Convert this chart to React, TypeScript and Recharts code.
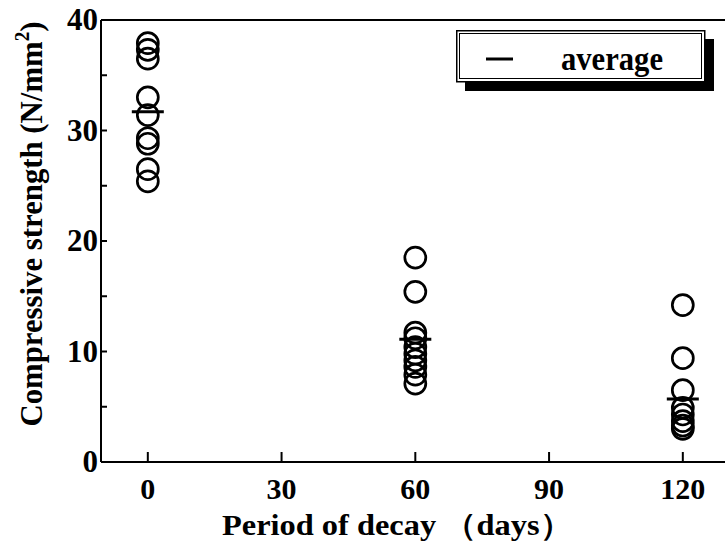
import React from 'react';
import {
  ScatterChart,
  Scatter,
  XAxis,
  YAxis,
  Legend,
  Label,
} from 'recharts';

// Periods of decay (days) and measured compressive strengths (N/mm2)
const periods = [0, 60, 120];
const strength0 = [37.9, 37.3, 36.5, 33.0, 31.4, 29.3, 28.8, 26.5, 25.4];
const strength60 = [18.5, 15.4, 11.7, 11.2, 10.4, 9.8, 9.2, 8.6, 7.9, 7.1];
const strength120 = [14.2, 9.4, 6.5, 4.9, 4.3, 3.7, 3.3, 3.0];
const averages = [31.7, 11.1, 5.7];

const xTicks = [0, 30, 60, 90, 120];
const yTicks = [0, 5, 10, 15, 20, 25, 30, 35, 40];

const strengthSets = [strength0, strength60, strength120];
const specimenData = periods.flatMap((d, i) => strengthSets[i].map((v) => ({ x: d, y: v })));
const averageData = periods.map((d, i) => ({ x: d, y: averages[i] }));

const FONT = '"Liberation Serif", "Times New Roman", serif';

const OpenCircle = (props: any) => {
  const { cx, cy } = props;
  return <circle cx={cx} cy={cy} r={10.5} fill="none" stroke="#000" strokeWidth={2.7} />;
};

const AverageBar = (props: any) => {
  const { cx, cy } = props;
  return <line x1={cx - 16} x2={cx + 16} y1={cy} y2={cy} stroke="#000" strokeWidth={3} />;
};

const BottomTick = (props: any) => {
  const { x, y, payload } = props;
  return (
    <g>
      <line x1={x} y1={y} x2={x} y2={y - 10} stroke="#000" strokeWidth={2} />
      <text x={x} y={y + 37} textAnchor="middle" fontFamily={FONT} fontWeight="bold" fontSize={30} fill="#000">
        {payload.value}
      </text>
    </g>
  );
};

const TopTick = (props: any) => {
  const { x, y } = props;
  return <line x1={x} y1={y} x2={x} y2={y + 10} stroke="#000" strokeWidth={2} />;
};

const LeftTick = (props: any) => {
  const { x, y, payload } = props;
  const major = payload.value % 10 === 0;
  return (
    <g>
      <line x1={x} y1={y} x2={x + 6} y2={y} stroke="#000" strokeWidth={2} />
      {major && (
        <text x={x - 3} y={y + 10} textAnchor="end" fontFamily={FONT} fontWeight="bold" fontSize={31} fill="#000">
          {payload.value}
        </text>
      )}
    </g>
  );
};

const RightTick = (props: any) => {
  const { x, y, payload } = props;
  const len = payload.value % 10 === 0 ? 10 : 5;
  return <line x1={x} y1={y} x2={x - len} y2={y} stroke="#000" strokeWidth={2} />;
};

const LegendBox = () => (
  <svg width={260} height={62} style={{ display: 'block', overflow: 'visible' }}>
    {/* shadow */}
    <rect x={9} y={9} width={249} height={52} fill="#000" />
    <rect x={0.75} y={0.75} width={248} height={51} fill="#fff" stroke="#000" strokeWidth={1.5} />
    <rect x={3.5} y={3.5} width={242} height={45} fill="none" stroke="#000" strokeWidth={1} />
    <line x1={30} x2={57} y1={29} y2={29} stroke="#000" strokeWidth={3} />
    <text
      x={105}
      y={40}
      fontFamily={FONT}
      fontWeight="bold"
      fontSize={33}
      textLength={102}
      lengthAdjust="spacingAndGlyphs"
      fill="#000"
    >
      average
    </text>
  </svg>
);

const App: React.FC = () => {
  return (
    <div style={{ position: 'absolute', left: 0, top: 0, width: 725, height: 547, overflow: 'hidden', background: '#fff' }}>
      <ScatterChart width={745} height={547} margin={{ top: 0, right: 0, bottom: 0, left: 0 }}>
        <XAxis
          xAxisId="bottom"
          type="number"
          dataKey="x"
          domain={[-10.5, 130]}
          ticks={xTicks}
          interval={0}
          height={85}
          tickSize={0}
          tickMargin={0}
          tickLine={false}
          tick={<BottomTick />}
          axisLine={{ stroke: '#000', strokeWidth: 2 }}
        >
          <Label
            content={(p: any) => {
              const vb = p.viewBox;
              return (
                <text
                  x={397}
                  y={vb.y + 73}
                  textAnchor="middle"
                  fontFamily={FONT}
                  fontWeight="bold"
                  fontSize={30}
                  textLength={350}
                  lengthAdjust="spacingAndGlyphs"
                  fill="#000"
                >
                  Period of decay （days）
                </text>
              );
            }}
          />
        </XAxis>
        <XAxis
          xAxisId="top"
          orientation="top"
          type="number"
          dataKey="x"
          domain={[-10.5, 130]}
          ticks={xTicks}
          interval={0}
          height={20}
          tickSize={0}
          tickMargin={0}
          tickLine={false}
          tick={<TopTick />}
          axisLine={{ stroke: '#000', strokeWidth: 2 }}
        />
        <YAxis
          yAxisId="left"
          type="number"
          dataKey="y"
          domain={[0, 40]}
          ticks={yTicks}
          interval={0}
          width={101}
          tickSize={0}
          tickMargin={0}
          tickLine={false}
          tick={<LeftTick />}
          axisLine={{ stroke: '#000', strokeWidth: 2 }}
        >
          <Label
            content={(p: any) => {
              const vb = p.viewBox;
              const cx = vb.x + 42;
              const cy = 224;
              return (
                <text
                  x={cx}
                  y={cy}
                  transform={`rotate(-90, ${cx}, ${cy})`}
                  textAnchor="middle"
                  fontFamily={FONT}
                  fontWeight="bold"
                  fontSize={32}
                  textLength={405}
                  lengthAdjust="spacingAndGlyphs"
                  fill="#000"
                >
                  Compressive strength (N/mm
                  <tspan dy={-13} fontSize={20}>2</tspan>
                  <tspan dy={13}>)</tspan>
                </text>
              );
            }}
          />
        </YAxis>
        <YAxis
          yAxisId="right"
          orientation="right"
          type="number"
          domain={[0, 40]}
          ticks={yTicks}
          interval={0}
          width={17.6}
          tickSize={0}
          tickMargin={0}
          tickLine={false}
          tick={<RightTick />}
          axisLine={{ stroke: '#000', strokeWidth: 2 }}
        />
        <Legend
          layout="vertical"
          align="center"
          verticalAlign="middle"
          wrapperStyle={{ left: 456, top: 30, width: 260, height: 62 }}
          content={() => <LegendBox />}
        />
        <Scatter
          name="specimen"
          data={specimenData}
          xAxisId="bottom"
          yAxisId="left"
          shape={<OpenCircle />}
          isAnimationActive={false}
          legendType="none"
        />
        <Scatter
          name="average"
          data={averageData}
          xAxisId="bottom"
          yAxisId="left"
          shape={<AverageBar />}
          isAnimationActive={false}
        />
      </ScatterChart>
    </div>
  );
};

export default App;
